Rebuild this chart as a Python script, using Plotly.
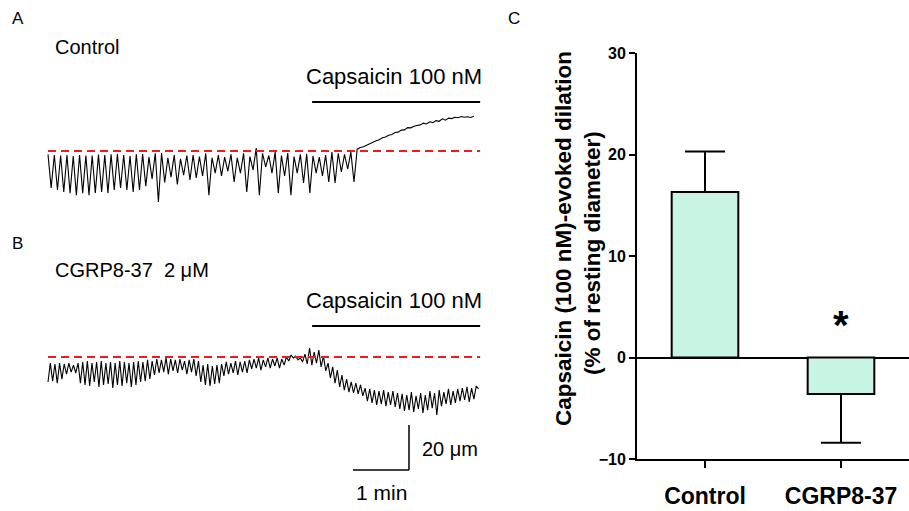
import numpy as np
import plotly.graph_objects as go

W, H = 909, 511
FONT = "Liberation Sans, Arial, sans-serif"

# ---------------- data ----------------
# Panel A: control vessel diameter trace (um, relative to resting baseline)
A_SAMPLE_S = 3.38
A_um = [
    -1.5,
    -16.4, -1.8, -17.3, -2.0, -18.2, -1.8, -18.7, -2.2, -19.6, -1.8, -18.7, -2.0, -19.6, -2.0,
    -18.7, -1.6, -18.2, -1.8, -18.7, -1.5, -17.3, -1.3, -16.4, -1.8, -17.3, -2.2, -18.2, -1.5,
    -17.3, -1.3, -15.6, -2.7, -12.4, -1.0, -22.7, -0.9, -14.0, -3.0, -11.6, -1.8, -14.9, -3.5, -10.7,
    -2.0, -12.9, -1.8, -12.0, -2.5, -11.1, -1.0, -19.6, -3.0, -9.8, -1.8, -11.1, -2.7, -8.9, -1.5,
    -13.8, -3.0, -9.8, -1.0, -18.2, -2.5, -8.4, 1.3, -19.6, -1.0, -7.1, -2.0, -9.8, -0.5, -18.7,
    -2.0, -11.1, -0.9, -19.6, -2.5, -9.8, -1.5, -14.2, -1.3, -18.7, -2.2, -9.8, -2.7, -11.1, -1.8, -13.8,
    -0.5, -14.2, -1.0, -9.3, -1.5, -8.0, -0.5, -13.8,
    0.8, 1.6, 1.9, 2.6, 3.3, 3.9, 4.6, 5.0, 5.9, 6.2, 7.0, 7.3, 8.2, 8.4, 9.3, 9.4, 10.4, 10.3,
    11.0, 11.3, 11.6, 12.4, 12.0, 13.0, 12.6, 13.5, 13.2, 14.3, 13.7, 14.6, 14.4, 15.0, 14.8,
    15.3, 15.0, 15.2, 14.9, 15.4,
]

# Panel B: CGRP8-37 treated vessel diameter trace (um, relative to resting baseline)
B_SAMPLE_S = 2.48
B_um = [
    -11.1, -2.7, -10.7, -3.1, -11.6, -2.7, -9.8,
    -3.1, -7.6, -2.7, -6.7, -3.6, -7.1, -2.7,
    -11.6, -2.2, -12.4, -1.8, -12.9, -2.7, -11.1, -2.2, -13.3, -1.8, -12.4, -2.7, -12.0, -2.2,
    -13.8, -2.7, -12.4, -1.8, -12.9, -2.2, -11.6, -2.7, -13.3, -2.2, -12.4, -1.8, -11.1, -2.2,
    -10.7, -1.3, -9.8, -1.8,
    -8.0, -0.9, -7.1, -1.3, -6.7, -0.4, -7.6, -0.9, -6.2, -1.3, -7.1, -0.9, -5.8, -1.8, -7.6,
    -1.3, -6.7, -0.9, -8.4, -1.8,
    -11.1, -3.6, -12.4, -3.1, -12.9, -4.0, -12.0, -3.6, -11.6, -3.1,
    -8.4, -2.2, -7.6, -2.7, -7.1, -1.8, -8.0, -2.2, -6.7, -1.8, -7.1, -1.3,
    -5.3, -0.9, -4.9, -0.4, -5.8, -1.3, -4.4, -0.4, -4.9, -0.9, -4.0, -0.4, -4.9, -0.9, -3.6, 0.0,
    -1.8, 0.9, -0.4, 0.4, -1.3, -0.4, -2.2,
    1.3, -3.1, 4.0, -3.6, 2.2, -2.7, 3.1, -4.4, 0.4,
    -6.2, -2.7, -9.3, -4.4, -11.6, -5.8, -13.3,
    -8.0, -14.7, -9.8, -15.6, -11.1, -16.0, -11.6, -16.4, -12.4, -17.3,
    -13.8, -19.6, -14.2, -20.4, -14.7, -21.3, -15.1, -20.9, -14.7, -21.8, -15.6, -21.3, -15.1,
    -22.2, -16.0,
    -23.1, -16.4, -24.0, -16.9, -23.6, -15.6, -24.4, -17.3, -23.1, -16.0, -24.9, -16.9, -23.6,
    -15.1, -22.7, -16.0, -25.8, -14.7, -21.8, -15.6, -20.9, -14.2, -21.3, -15.1, -20.4,
    -14.2, -19.6, -13.8, -19.1, -13.3, -20.0, -13.8, -18.7, -12.9, -14.2,
]

RECORD_END_S = 463          # end of recording (s)
CAPS_ON_S = [283, 463]      # capsaicin application window (s)
SCALE_TIME_S = 60           # time scale bar
SCALE_UM = 20               # diameter scale bar

# Panel C
categories = ["Control", "CGRP8-37"]
dilation_mean = [16.3, -3.6]
dilation_sem = [4.0, 4.8]
y_ticks = [-10, 0, 10, 20, 30]

# ---------------- layout helpers ----------------
S_PER_PX = 60 / 56
UM_PER_PX = 20 / 45
TRACE_X0 = 48


def paper_x(px):
    return px / W


def paper_y(py):
    return 1 - py / H


tA = np.arange(len(A_um)) * A_SAMPLE_S
tB = np.arange(len(B_um)) * B_SAMPLE_S

fig = go.Figure()

fig.add_trace(go.Scatter(x=tA, y=A_um, mode="lines", xaxis="x2", yaxis="y2",
                         line=dict(color="black", width=1.1), showlegend=False,
                         hoverinfo="skip"))
fig.add_trace(go.Scatter(x=tB, y=B_um, mode="lines", xaxis="x2", yaxis="y3",
                         line=dict(color="black", width=1.1), showlegend=False,
                         hoverinfo="skip"))

fig.add_trace(go.Bar(
    x=[0, 1], y=dilation_mean, width=0.49, xaxis="x", yaxis="y",
    marker=dict(color="#c8f5e3", line=dict(color="black", width=2)),
    error_y=dict(type="data", symmetric=False,
                 array=[dilation_sem[0], 0], arrayminus=[0, dilation_sem[1]],
                 color="black", thickness=2, width=20),
    showlegend=False, hoverinfo="skip"))

# trace axes
xr = [(0 - TRACE_X0) * S_PER_PX, (540 - TRACE_X0) * S_PER_PX]
yA_dom = [paper_y(230), paper_y(90)]
yA_rng = [-(230 - 151) * UM_PER_PX, (151 - 90) * UM_PER_PX]
yB_dom = [paper_y(490), paper_y(300)]
yB_rng = [-(490 - 357) * UM_PER_PX, (357 - 300) * UM_PER_PX]

hidden = dict(visible=False, showgrid=False, zeroline=False)

fig.update_layout(
    width=W, height=H,
    margin=dict(l=0, r=0, t=0, b=0, pad=0),
    paper_bgcolor="white", plot_bgcolor="white",
    font=dict(family=FONT, color="black"),
    xaxis=dict(domain=[paper_x(637), 1.0], range=[-0.5, 1.5],
               tickvals=[0, 1], ticktext=categories,
               ticks="outside", ticklen=7, tickwidth=2, tickcolor="black",
               showline=True, linewidth=2, linecolor="black",
               tickfont=dict(size=23, family=FONT, weight="bold"),
               ticklabelstandoff=8, automargin=False,
               showgrid=False, zeroline=False, anchor="y"),
    yaxis=dict(domain=[paper_y(459), paper_y(53)], range=[-10, 30],
               tickvals=y_ticks, ticks="outside", ticklen=6, tickwidth=2,
               tickcolor="black", showline=True, linewidth=2, linecolor="black",
               tickfont=dict(size=16, family=FONT, weight="bold"),
               showgrid=False, zeroline=True, zerolinecolor="black",
               zerolinewidth=1.5, anchor="x", automargin=False),
    xaxis2=dict(domain=[0, paper_x(540)], range=xr, anchor="y2", **hidden),
    yaxis2=dict(domain=yA_dom, range=yA_rng, anchor="x2", **hidden),
    yaxis3=dict(domain=yB_dom, range=yB_rng, anchor="x2", **hidden),
)

shapes = []
red = "#ee1c1c"
for yref in ("y2", "y3"):
    shapes.append(dict(type="line", xref="x2", yref=yref, x0=0, x1=RECORD_END_S,
                       y0=0, y1=0, line=dict(color=red, width=2, dash="8px,5px")))
# capsaicin bars
shapes.append(dict(type="line", xref="x2", yref="y2", x0=CAPS_ON_S[0], x1=CAPS_ON_S[1],
                   y0=(151 - 102) * UM_PER_PX, y1=(151 - 102) * UM_PER_PX,
                   line=dict(color="black", width=2)))
shapes.append(dict(type="line", xref="x2", yref="y3", x0=CAPS_ON_S[0], x1=CAPS_ON_S[1],
                   y0=(357 - 326) * UM_PER_PX, y1=(357 - 326) * UM_PER_PX,
                   line=dict(color="black", width=2)))
# scale bar
sb_t1 = (409 - TRACE_X0) * S_PER_PX
sb_y0 = -(470 - 357) * UM_PER_PX
shapes.append(dict(type="line", xref="x2", yref="y3", x0=sb_t1 - SCALE_TIME_S, x1=sb_t1,
                   y0=sb_y0, y1=sb_y0, line=dict(color="black", width=1.5)))
shapes.append(dict(type="line", xref="x2", yref="y3", x0=sb_t1, x1=sb_t1,
                   y0=sb_y0, y1=sb_y0 + SCALE_UM, line=dict(color="black", width=1.5)))
fig.update_layout(shapes=shapes)


def txt(s, px, py, size, anchor="left", bold=False, angle=0):
    fig.add_annotation(text=s, x=paper_x(px), y=paper_y(py), xref="paper", yref="paper",
                       xanchor=anchor, yanchor="middle", showarrow=False, textangle=angle,
                       font=dict(size=size, family=FONT, color="black",
                                 weight="bold" if bold else "normal"))


txt("A", 10, 18, 17)
txt("B", 10, 243, 17)
txt("C", 506, 18, 17)
txt("Control", 53, 47, 20)
txt("CGRP8-37&nbsp;&nbsp;2 μM", 53, 270, 20)
txt("Capsaicin 100 nM", 394, 77, 22, anchor="center")
txt("Capsaicin 100 nM", 394, 300, 22, anchor="center")
txt("20 μm", 420, 449, 20)
txt("1 min", 381, 492, 21, anchor="center")
txt("Capsaicin (100 nM)-evoked dilation", 563, 239, 22.5, anchor="center", bold=True, angle=-90)
txt("(% of resting diameter)", 593, 253, 22.5, anchor="center", bold=True, angle=-90)

fig.add_annotation(text="*", x=1, y=3.2, xref="x", yref="y", showarrow=False,
                   yanchor="middle", font=dict(size=40, family=FONT, weight="bold"))

fig.write_html("out.html", config={"displayModeBar": False},
               post_script="document.body.style.margin='0px';")
